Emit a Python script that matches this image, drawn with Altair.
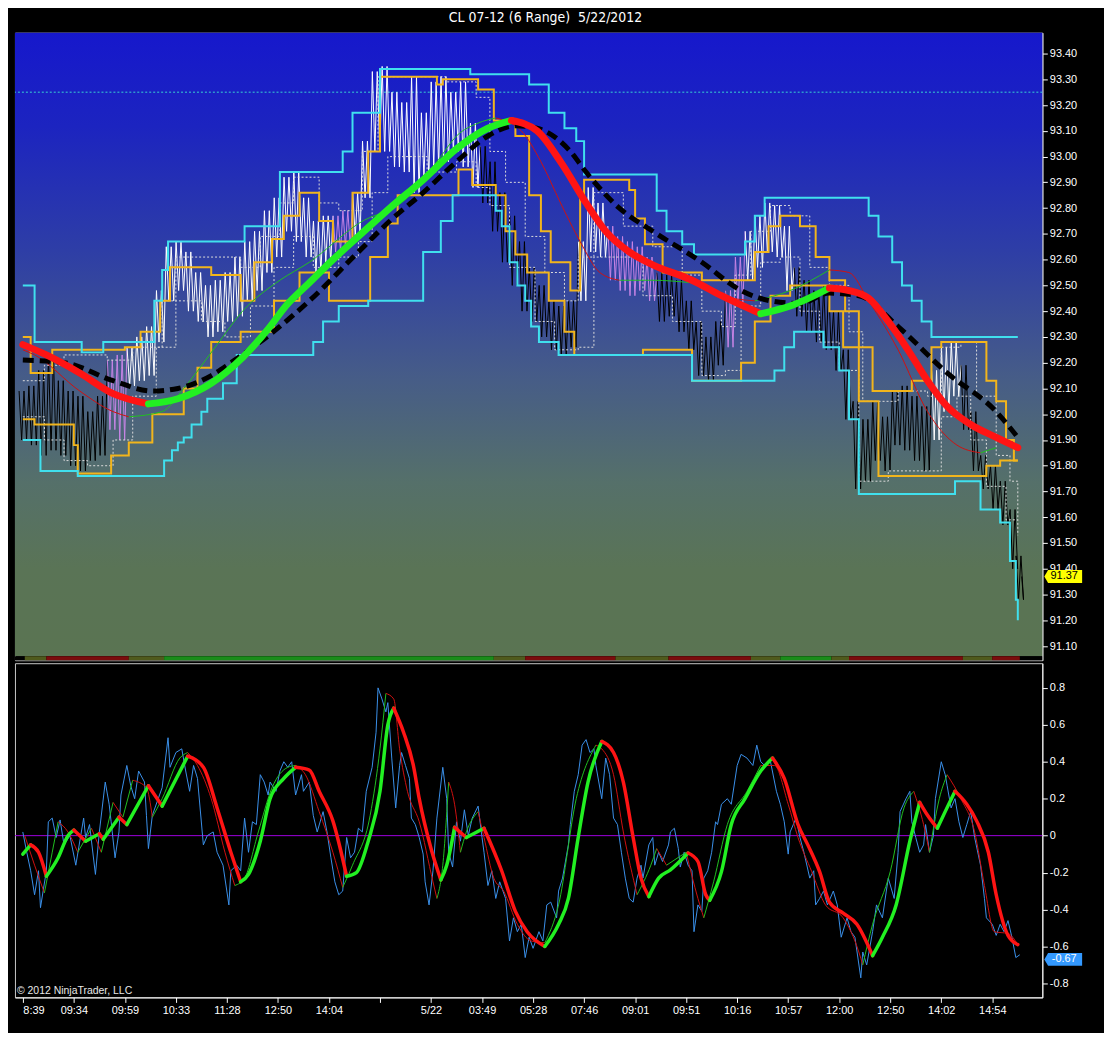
import json
import altair as alt
import pandas as pd

# ---------------------------------------------------------------- text
TITLE = "CL 07-12 (6 Range) \u00a05/22/2012"
COPYRIGHT = "\u00a9 2012 NinjaTrader, LLC"

# ---------------------------------------------------------------- axes
tick_bars = [4, 30, 56, 82, 108, 134, 160, 186, 212, 238, 264, 290, 316, 342, 368, 394, 420, 446, 472, 498]
tick_labels = ["8:39", "09:34", "09:59", "10:33", "11:28", "12:50", "14:04", "", "5/22", "03:49",
               "05:28", "07:46", "09:01", "09:51", "10:16", "10:57", "12:00", "12:50", "14:02", "14:54"]
price_ticks = [91.1, 91.2, 91.3, 91.4, 91.5, 91.6, 91.7, 91.8, 91.9, 92.0, 92.1, 92.2,
               92.3, 92.4, 92.5, 92.6, 92.7, 92.8, 92.9, 93.0, 93.1, 93.2, 93.3, 93.4]
osc_ticks = [-0.8, -0.6, -0.4, -0.2, 0, 0.2, 0.4, 0.6, 0.8]
last_price = 91.37
last_osc = -0.67
ref_level = 93.25

# ---------------------------------------------------------------- price trace (range bars)
price_bar = list(range(4, 510, 5)) + [512]
price_low = [91.90, 91.88, 91.84, 91.86, 91.84, 91.80, 91.78, 91.82, 91.84, 91.94,
             91.90, 92.11, 92.13, 92.15, 92.28, 92.44, 92.48, 92.40, 92.36, 92.30,
             92.32, 92.36, 92.38, 92.44, 92.48, 92.55, 92.61, 92.71, 92.67, 92.61,
             92.55, 92.59, 92.63, 92.65, 92.69, 92.84, 93.02, 93.02, 92.96, 92.94,
             92.86, 92.92, 92.96, 92.98, 93.02, 92.96, 92.88, 92.82, 92.71, 92.59,
             92.50, 92.40, 92.36, 92.30, 92.25, 92.23, 92.26, 92.44, 92.63, 92.61,
             92.52, 92.48, 92.46, 92.48, 92.44, 92.36, 92.38, 92.32, 92.25, 92.15,
             92.13, 92.19, 92.26, 92.42, 92.52, 92.57, 92.63, 92.61, 92.48, 92.38,
             92.32, 92.28, 92.25, 92.17, 91.98, 91.71, 91.74, 91.82, 91.78, 91.88,
             91.86, 91.82, 91.78, 91.90, 92.01, 92.07, 91.94, 91.78, 91.71, 91.63,
             91.57, 91.40, 91.28]
price_high = [92.09, 92.11, 92.17, 92.23, 92.13, 92.09, 92.07, 92.01, 92.07, 92.21,
              92.23, 92.26, 92.30, 92.34, 92.48, 92.65, 92.67, 92.63, 92.55, 92.50,
              92.52, 92.55, 92.61, 92.67, 92.71, 92.79, 92.84, 92.92, 92.94, 92.84,
              92.75, 92.77, 92.77, 92.79, 92.86, 93.06, 93.33, 93.35, 93.25, 93.21,
              93.31, 93.17, 93.29, 93.31, 93.25, 93.29, 93.13, 93.04, 92.98, 92.86,
              92.77, 92.67, 92.57, 92.50, 92.44, 92.42, 92.44, 92.67, 92.88, 92.82,
              92.73, 92.69, 92.67, 92.65, 92.61, 92.55, 92.54, 92.52, 92.44, 92.36,
              92.30, 92.36, 92.48, 92.61, 92.71, 92.77, 92.82, 92.81, 92.73, 92.57,
              92.52, 92.48, 92.50, 92.40, 92.25, 92.05, 91.98, 92.05, 91.99, 92.09,
              92.11, 92.07, 92.03, 92.17, 92.26, 92.28, 92.19, 92.01, 91.84, 91.80,
              91.74, 91.63, 91.45]
# k = below trend (black), w = above trend (white), p = transition (violet)
price_tone = ("kkkkkkkkk" + "pp" + "w" * 21 + "pp" + "w" * 13 + "k" * 10 + "www" + "ppppp"
              + "k" * 7 + "pp" + "wwwww" + "k" * 14 + "www" + "k" * 7)

# ---------------------------------------------------------------- price indicators
ma_slow = [(4, 92.27), (16, 92.23), (33, 92.16), (50, 92.08), (68, 92.04), (83, 92.06), (100, 92.12),
           (116, 92.22), (130, 92.34), (138, 92.42), (150, 92.51), (162, 92.60), (175, 92.69),
           (191, 92.80), (208, 92.91), (225, 93.03), (241, 93.11), (253, 93.14), (266, 93.10),
           (278, 92.98), (291, 92.82), (301, 92.71), (313, 92.63), (325, 92.58), (345, 92.52),
           (360, 92.46), (380, 92.39), (395, 92.42), (415, 92.49), (425, 92.48), (435, 92.45),
           (445, 92.36), (455, 92.25), (465, 92.13), (475, 92.03), (487, 91.96), (500, 91.91), (511, 91.87)]
ma_slow_dir = "dddd" + "u" * 13 + "d" * 9 + "uu" + "d" * 10

ma_base = [(4, 92.21), (25, 92.20), (50, 92.13), (70, 92.09), (83, 92.10), (100, 92.15), (110, 92.20),
           (130, 92.31), (150, 92.44), (175, 92.63), (191, 92.75), (208, 92.86), (225, 92.98),
           (241, 93.08), (255, 93.12), (266, 93.11), (283, 93.02), (291, 92.94), (308, 92.80),
           (325, 92.71), (350, 92.59), (370, 92.48), (385, 92.44), (400, 92.43), (415, 92.47),
           (430, 92.46), (450, 92.34), (475, 92.16), (500, 92.01), (511, 91.91)]

ma_fast = [(4, 92.25), (10, 92.23), (33, 92.09), (50, 92.01), (58, 91.99), (75, 92.01), (86, 92.10),
           (103, 92.27), (116, 92.40), (135, 92.52), (150, 92.59), (175, 92.74), (200, 92.84),
           (216, 92.99), (225, 93.08), (236, 93.13), (245, 93.15), (258, 93.10), (268, 92.98),
           (278, 92.82), (288, 92.67), (298, 92.55), (308, 92.52), (325, 92.52), (345, 92.51),
           (360, 92.46), (377, 92.44), (395, 92.48), (415, 92.56), (425, 92.55), (435, 92.44),
           (450, 92.25), (465, 92.01), (480, 91.88), (492, 91.85), (500, 91.87)]
ma_fast_dir = "dddd" + "u" * 12 + "d" * 6 + "uu" + "dd" + "uu" + "d" * 6 + "uu"

cyan_upper = [(4, 92.50), (10, 92.28), (34, 92.24), (45, 92.28), (71, 92.44), (75, 92.56), (78, 92.67),
              (117, 92.73), (135, 92.94), (167, 93.02), (172, 93.17), (186, 93.34), (232, 93.32),
              (262, 93.28), (272, 93.17), (280, 93.11), (286, 93.06), (290, 92.93), (327, 92.79),
              (332, 92.71), (340, 92.66), (346, 92.62), (372, 92.67), (377, 92.77), (382, 92.84),
              (435, 92.77), (440, 92.69), (447, 92.59), (452, 92.50), (457, 92.44), (462, 92.36),
              (467, 92.30), (511, 92.30)]
cyan_lower = [(4, 91.90), (13, 91.78), (32, 91.76), (76, 91.82), (80, 91.86), (83, 91.89), (86, 91.91),
              (90, 91.96), (95, 92.01), (98, 92.06), (106, 92.12), (113, 92.23), (152, 92.28),
              (157, 92.36), (165, 92.42), (180, 92.44), (208, 92.63), (217, 92.75), (223, 92.85),
              (245, 92.79), (248, 92.73), (252, 92.59), (256, 92.50), (260, 92.44), (263, 92.34),
              (267, 92.28), (277, 92.23), (345, 92.13), (387, 92.17), (392, 92.26), (397, 92.32),
              (412, 92.26), (420, 92.17), (425, 91.98), (430, 91.69), (479, 91.74), (492, 91.63),
              (502, 91.58), (507, 91.43), (510, 91.28), (511, 91.20)]
gold_upper = [(4, 92.30), (8, 92.16), (19, 92.25), (56, 92.26), (64, 92.32), (74, 92.44), (79, 92.57),
              (100, 92.54), (115, 92.44), (122, 92.59), (131, 92.68), (137, 92.77), (145, 92.86),
              (155, 92.75), (162, 92.67), (172, 92.86), (180, 93.02), (186, 93.31), (215, 93.28),
              (218, 93.30), (236, 93.26), (244, 93.14), (255, 93.08), (262, 92.85), (268, 92.71),
              (273, 92.59), (283, 92.48), (288, 92.84), (290, 92.91), (313, 92.87), (316, 92.76),
              (321, 92.66), (330, 92.55), (350, 92.52), (377, 92.63), (384, 92.73), (390, 92.77),
              (400, 92.73), (408, 92.61), (415, 92.52), (423, 92.40), (430, 92.26), (437, 92.09),
              (457, 92.13), (467, 92.26), (472, 92.28), (495, 92.13), (500, 92.05), (505, 91.90),
              (509, 91.82), (511, 91.82)]
gold_lower = [(4, 91.98), (10, 91.96), (30, 91.88), (32, 91.77), (49, 91.84), (58, 91.89), (70, 92.00),
              (86, 92.10), (93, 92.18), (100, 92.28), (115, 92.32), (132, 92.44), (145, 92.55),
              (160, 92.44), (181, 92.61), (190, 92.74), (195, 92.85), (226, 92.95), (233, 92.89),
              (245, 92.85), (250, 92.71), (255, 92.62), (261, 92.55), (272, 92.44), (280, 92.32),
              (285, 92.23), (320, 92.25), (345, 92.13), (370, 92.20), (377, 92.36), (385, 92.46),
              (395, 92.50), (415, 92.40), (422, 92.26), (430, 92.05), (440, 91.76), (487, 91.76),
              (495, 91.80), (502, 91.82), (511, 91.82)]
dots_upper = [(4, 92.13), (15, 92.19), (25, 92.23), (47, 92.21), (60, 92.26), (75, 92.44), (82, 92.61),
              (95, 92.61), (115, 92.57), (125, 92.69), (135, 92.82), (142, 92.92), (155, 92.82),
              (165, 92.79), (177, 93.02), (185, 93.31), (205, 93.31), (220, 93.29), (235, 93.23),
              (242, 93.02), (250, 92.90), (260, 92.69), (270, 92.55), (280, 92.44), (287, 92.61),
              (295, 92.86), (310, 92.73), (325, 92.65), (340, 92.54), (350, 92.40), (360, 92.34),
              (367, 92.54), (375, 92.71), (385, 92.81), (395, 92.77), (405, 92.57), (415, 92.50),
              (425, 92.32), (432, 92.05), (450, 92.09), (465, 92.07), (472, 92.26), (482, 92.28),
              (490, 92.07), (500, 91.84), (507, 91.74), (511, 91.59)]
dots_lower = [(4, 91.99), (15, 91.90), (25, 91.82), (37, 91.80), (50, 91.90), (60, 92.07), (72, 92.26),
              (82, 92.44), (95, 92.36), (107, 92.30), (120, 92.42), (132, 92.57), (142, 92.69),
              (152, 92.57), (165, 92.61), (175, 92.67), (182, 92.86), (190, 93.00), (210, 92.94),
              (225, 92.98), (235, 92.88), (242, 92.81), (252, 92.57), (265, 92.36), (275, 92.25),
              (287, 92.26), (295, 92.61), (305, 92.61), (320, 92.46), (335, 92.36), (350, 92.15),
              (362, 92.17), (370, 92.42), (380, 92.59), (390, 92.61), (400, 92.40), (410, 92.28),
              (420, 92.17), (430, 91.74), (445, 91.78), (465, 91.78), (472, 91.99), (480, 92.07),
              (487, 91.90), (495, 91.72), (505, 91.59), (511, 91.53)]

# trend strip under the price panel: (start bar, end bar, state)
trend_strip = [(5, 16, "n"), (16, 58, "d"), (58, 76, "n"), (76, 244, "u"), (244, 260, "n"),
               (260, 306, "d"), (306, 333, "n"), (333, 375, "d"), (375, 390, "n"), (390, 416, "u"),
               (416, 425, "n"), (425, 483, "d"), (483, 498, "n"), (498, 512, "d")]

# ---------------------------------------------------------------- oscillator panel
osc_fast = [(4, 0.02), (6, -0.09), (8, -0.19), (10, -0.32), (12, -0.19), (13, -0.39), (16, -0.19), (17, 0.075), (19, 0.095), (21, -0.01),
            (23, 0.085), (25, -0.05), (28, 0.0), (31, -0.16), (35, 0.095), (36, -0.01), (38, 0.06), (41, -0.21), (43, 0.02), (46, 0.29),
            (48, 0.17), (49, 0.075), (51, -0.12), (53, 0.02), (54, 0.22), (57, 0.38), (59, 0.27), (61, 0.20), (63, 0.35), (66, 0.29),
            (67, 0.11), (68, -0.07), (70, 0.11), (73, 0.20), (75, 0.26), (78, 0.53), (79, 0.37), (82, 0.45), (85, 0.47), (87, 0.35),
            (89, 0.24), (91, 0.38), (93, 0.31), (96, -0.05), (98, 0.0), (101, 0.02), (103, -0.09), (106, -0.16), (109, -0.375), (110, -0.19),
            (113, -0.16), (115, -0.19), (117, 0.095), (119, -0.09), (121, 0.075), (123, 0.06), (125, 0.33), (127, 0.29), (129, 0.22), (130, 0.29),
            (133, 0.24), (135, 0.35), (137, 0.40), (139, 0.37), (141, 0.40), (143, 0.22), (146, 0.33), (147, 0.24), (150, 0.29), (152, 0.11),
            (154, 0.02), (157, 0.13), (159, 0.02), (161, -0.12), (163, -0.25), (165, -0.32), (167, -0.30), (169, -0.01), (171, -0.12), (173, -0.09),
            (175, 0.04), (177, 0.02), (179, 0.24), (182, 0.37), (184, 0.56), (185, 0.80), (187, 0.74), (189, 0.67), (190, 0.72), (192, 0.42),
            (194, 0.15), (196, 0.38), (197, 0.45), (199, 0.38), (201, 0.31), (202, 0.095), (204, 0.06), (206, -0.01), (208, -0.10), (209, -0.25),
            (211, -0.375), (213, -0.19), (215, 0.095), (218, 0.37), (220, 0.20), (221, -0.09), (223, -0.17), (225, 0.075), (227, -0.03), (229, 0.14),
            (231, 0.0), (233, 0.095), (236, 0.16), (238, -0.01), (239, -0.09), (241, -0.27), (243, -0.19), (245, -0.34), (247, -0.25), (250, -0.34),
            (252, -0.57), (254, -0.445), (256, -0.52), (258, -0.48), (260, -0.66), (262, -0.55), (264, -0.61), (267, -0.52), (269, -0.57), (271, -0.375),
            (273, -0.36), (276, -0.445), (277, -0.30), (279, -0.23), (282, -0.05), (283, 0.06), (285, 0.24), (287, 0.33), (289, 0.49), (291, 0.52),
            (293, 0.45), (295, 0.47), (296, 0.38), (299, 0.20), (301, 0.42), (303, 0.33), (305, 0.095), (307, 0.06), (309, -0.09), (311, -0.23),
            (313, -0.34), (315, -0.36), (317, -0.23), (319, -0.16), (320, -0.23), (323, -0.05), (325, -0.01), (326, -0.16), (328, -0.09), (330, -0.14),
            (333, -0.05), (334, 0.02), (336, 0.04), (338, -0.07), (339, -0.17), (341, -0.09), (343, -0.16), (345, -0.19), (346, -0.52), (348, -0.375),
            (350, -0.41), (351, -0.23), (353, -0.19), (355, -0.09), (357, 0.075), (358, 0.06), (360, 0.17), (363, 0.20), (365, 0.17), (368, 0.38),
            (370, 0.44), (373, 0.42), (376, 0.38), (378, 0.49), (380, 0.40), (382, 0.38), (385, 0.40), (388, 0.24), (390, 0.17), (392, 0.075),
            (394, -0.10), (395, 0.02), (398, 0.095), (400, -0.01), (402, -0.09), (405, -0.23), (407, -0.19), (408, -0.375), (410, -0.34), (412, -0.30),
            (414, -0.375), (417, -0.30), (419, -0.375), (421, -0.55), (424, -0.445), (426, -0.52), (428, -0.55), (431, -0.77), (432, -0.63), (434, -0.70),
            (437, -0.52), (439, -0.375), (442, -0.445), (444, -0.30), (445, -0.23), (448, -0.34), (450, -0.09), (451, 0.13), (454, 0.20), (456, 0.24),
            (457, 0.075), (459, -0.01), (461, -0.09), (463, -0.05), (464, 0.06), (466, -0.09), (468, 0.0), (469, 0.20), (472, 0.40), (474, 0.33),
            (475, 0.27), (477, 0.15), (479, 0.20), (481, 0.075), (483, -0.01), (485, 0.06), (487, 0.13), (489, -0.01), (492, -0.16), (494, -0.34),
            (495, -0.445), (498, -0.48), (500, -0.54), (502, -0.48), (504, -0.52), (506, -0.46), (508, -0.55), (510, -0.66), (512, -0.645)]

osc_signal = [(5, 0.00), (10, -0.16), (15, -0.31), (19, -0.09), (22, 0.075), (27, 0.02), (32, -0.09), (39, 0.04), (44, -0.09), (50, 0.18),
              (55, 0.10), (60, 0.30), (67, 0.26), (70, 0.10), (75, 0.20), (84, 0.42), (88, 0.45), (93, 0.38), (100, 0.20), (107, -0.09),
              (112, -0.27), (117, -0.23), (124, 0.02), (131, 0.26), (139, 0.37), (143, 0.38), (148, 0.33), (155, 0.13), (162, -0.09), (167, -0.28),
              (172, -0.16), (181, 0.11), (186, 0.47), (189, 0.77), (193, 0.74), (196, 0.47), (200, 0.24), (206, 0.075), (213, -0.25), (215, -0.34),
              (218, -0.16), (221, 0.29), (224, 0.17), (227, -0.09), (230, 0.02), (236, 0.13), (239, -0.01), (244, -0.23), (249, -0.30), (256, -0.48),
              (263, -0.57), (270, -0.58), (277, -0.375), (286, 0.20), (296, 0.49), (299, 0.47), (305, 0.33), (310, 0.02), (317, -0.32), (324, -0.16),
              (327, -0.07), (332, -0.16), (342, -0.09), (348, -0.34), (351, -0.445), (356, -0.25), (363, 0.06), (373, 0.24), (380, 0.38), (387, 0.38),
              (394, 0.17), (399, -0.01), (406, -0.195), (413, -0.375), (422, -0.445), (430, -0.63), (432, -0.70), (437, -0.48), (446, -0.195), (453, 0.15),
              (458, 0.24), (463, 0.06), (466, -0.09), (471, 0.20), (475, 0.33), (482, 0.20), (489, 0.02), (494, -0.27), (499, -0.52), (506, -0.53),
              (511, -0.59)]
osc_signal_dir = ("dduuddudud" + "udduuudddd" + "uuuuuddddu" + "uuuddddddu" + "udduuddddd"
                  + "duuudddduu" + "dudduuuudd" + "dddddduuuu" + "dduudddddd" + "d")

osc_smooth = [(4, -0.10), (8, -0.05), (12, -0.09), (16, -0.22), (22, -0.12), (27, 0.00), (30, 0.03), (36, -0.03), (43, 0.01), (45, -0.02),
              (53, 0.10), (57, 0.06), (68, 0.27), (75, 0.16), (88, 0.43), (96, 0.37), (103, 0.15), (110, -0.09), (115, -0.25), (119, -0.21),
              (125, -0.03), (130, 0.20), (137, 0.31), (143, 0.37), (150, 0.355), (155, 0.24), (162, 0.08), (169, -0.22), (174, -0.20), (180, -0.03),
              (186, 0.24), (190, 0.60), (193, 0.69), (198, 0.56), (203, 0.38), (206, 0.20), (212, -0.07), (217, -0.24), (220, -0.16), (224, 0.045),
              (230, -0.01), (239, 0.04), (248, -0.19), (255, -0.41), (261, -0.52), (270, -0.60), (277, -0.48), (282, -0.34), (287, -0.01), (292, 0.29),
              (299, 0.51), (305, 0.45), (310, 0.29), (315, -0.01), (319, -0.23), (323, -0.33), (328, -0.23), (334, -0.185), (343, -0.094), (348, -0.14),
              (352, -0.32), (354, -0.35), (360, -0.195), (365, 0.06), (372, 0.20), (380, 0.35), (386, 0.42), (392, 0.31), (399, 0.06), (404, -0.05),
              (410, -0.195), (415, -0.36), (422, -0.42), (429, -0.48), (437, -0.65), (442, -0.55), (449, -0.375), (456, -0.03), (461, 0.18), (465, 0.11),
              (470, 0.04), (474, 0.13), (479, 0.24), (485, 0.17), (490, 0.08), (496, -0.09), (500, -0.32), (506, -0.54), (511, -0.59)]
osc_smooth_dir = ("udduuududududu" + "dddd" + "uuuuu" + "dddd" + "uuuuu" + "ddddd" + "uu" + "d" + "u"
                  + "dddd" + "uuuuu" + "ddddd" + "uuu" + "ddd" + "uuuuu" + "dddddddd" + "uuuu" + "dd" + "uu" + "ddddddd")

# ---------------------------------------------------------------- styling
W, H1, H2 = 1033, 631, 336
STRIP = 4
X_DOMAIN = [0, 523.5]
P_DOMAIN = [91.045, 93.481]
O_DOMAIN = [-0.8757, 0.9335]
FONT = "Liberation Sans, Arial, Helvetica, sans-serif"
TITLE_FONT = "Liberation Sans Narrow, Arial Narrow, DejaVu Sans Condensed, Liberation Sans, sans-serif"

UP, DOWN = "#22f022", "#ff1414"
UP_THIN, DOWN_THIN = "#20c020", "#d01010"
tone_color = {"k": "#000000", "w": "#ffffff", "p": "#c884e6"}
strip_color = {"n": "#4f5a1c", "d": "#7a0c0c", "u": "#1a8c1a"}

xscale = alt.Scale(domain=X_DOMAIN, nice=False, zero=False)
pscale = alt.Scale(domain=P_DOMAIN, nice=False, zero=False)
oscale = alt.Scale(domain=O_DOMAIN, nice=False, zero=False)

axis_style = dict(domainColor="#ffffff", tickColor="#ffffff", tickSize=5, labelColor="#ffffff",
                  labelFont=FONT, labelFontSize=11, grid=False, title=None, labelOverlap=False)

p_axis = alt.Axis(orient="right", values=price_ticks, format=".2f", labelPadding=2, **axis_style)
o_axis = alt.Axis(orient="right", values=osc_ticks, labelPadding=2,
                  labelExpr="datum.value == 0 ? '0' : (datum.value < 0 ? '-' : '') + format(abs(datum.value), '.1f')",
                  **axis_style)
x_axis = alt.Axis(orient="bottom", values=tick_bars, labelPadding=2, labelFlush=False,
                  labelAlign=alt.condition("datum.value < 10", alt.value("left"), alt.value("center")),
                  labelExpr=f"{json.dumps(tick_labels)}[indexof({json.dumps(tick_bars)}, datum.value)]",
                  **axis_style)


def X(field="x", axis=None):
    return alt.X(f"{field}:Q", scale=xscale, axis=axis)


def PY(field="y"):
    return alt.Y(f"{field}:Q", scale=pscale, axis=p_axis)


def OY(field="y"):
    return alt.Y(f"{field}:Q", scale=oscale, axis=o_axis)


def colored_segments(points, keys, palette):
    rows, seg, prev = [], 0, None
    for i, ((x, y), k) in enumerate(zip(points, keys)):
        if prev is not None and k != prev:
            rows.append({"x": x, "y": y, "col": palette[prev], "seg": seg, "o": i})
            seg += 1
        rows.append({"x": x, "y": y, "col": palette[k], "seg": seg, "o": i})
        prev = k
    return pd.DataFrame(rows)


def step_pair(upper, lower):
    rows = [{"x": x, "y": y, "s": "up"} for x, y in upper]
    rows += [{"x": x, "y": y, "s": "lo"} for x, y in lower]
    return pd.DataFrame(rows)


one = pd.DataFrame({"k": [0]})

# ---------------------------------------------------------------- upper panel
gradient = alt.LinearGradient(
    gradient="linear", x1=0, x2=0, y1=0, y2=1,
    stops=[alt.GradientStop(color="#1618cc", offset=0.0),
           alt.GradientStop(color="#1c24c0", offset=0.15),
           alt.GradientStop(color="#2e3ea6", offset=0.35),
           alt.GradientStop(color="#465c88", offset=0.55),
           alt.GradientStop(color="#55706a", offset=0.72),
           alt.GradientStop(color="#5a7456", offset=0.86),
           alt.GradientStop(color="#5a7452", offset=1.0)])

bg = alt.Chart(one).mark_rect(color=gradient).encode(
    x=alt.value(0), x2=alt.value(W), y=alt.value(0), y2=alt.value(H1 - STRIP))
strip_bg = alt.Chart(one).mark_rect(color="#000000").encode(
    x=alt.value(0), x2=alt.value(W), y=alt.value(H1 - STRIP), y2=alt.value(H1))
strip_df = pd.DataFrame([{"s": s, "e": e, "col": strip_color[t]} for s, e, t in trend_strip])
strip = alt.Chart(strip_df).mark_rect().encode(
    x=X("s"), x2="e:Q", y=alt.value(H1 - STRIP), y2=alt.value(H1),
    color=alt.Color("col:N", scale=None))

ref_line = alt.Chart(pd.DataFrame({"y": [ref_level]})).mark_rule(
    color="#38d4d4", strokeDash=[2, 2], strokeWidth=1).encode(y=PY())

# price scribble: each column swings twice between its low and high
trace_pts, trace_keys = [], []
for b, lo, hi, t in zip(price_bar, price_low, price_high, price_tone):
    trace_pts += [(b - 1.9, hi), (b - 0.6, lo), (b + 0.6, hi), (b + 1.9, lo)]
    trace_keys += [t, t, t, t]
trace_pts.append((513, last_price))
trace_keys.append("k")
trace_df = colored_segments(trace_pts, trace_keys, tone_color)
trace = alt.Chart(trace_df).mark_line(strokeWidth=1).encode(
    x=X(), y=PY(), color=alt.Color("col:N", scale=None), detail="seg:N", order="o:Q")

dots = alt.Chart(step_pair(dots_upper, dots_lower)).mark_line(
    interpolate="step-after", strokeDash=[2, 2], strokeWidth=1, color="#dcdcdc").encode(
    x=X(), y=PY(), detail="s:N")
gold = alt.Chart(step_pair(gold_upper, gold_lower)).mark_line(
    interpolate="step-after", strokeWidth=2, color="#f2b51c").encode(
    x=X(), y=PY(), detail="s:N")
cyan = alt.Chart(step_pair(cyan_upper, cyan_lower)).mark_line(
    interpolate="step-after", strokeWidth=2, color="#40e0ee").encode(
    x=X(), y=PY(), detail="s:N")

fast_df = colored_segments(ma_fast, ma_fast_dir, {"u": UP_THIN, "d": DOWN_THIN})
fast = alt.Chart(fast_df).mark_line(strokeWidth=1, interpolate="monotone").encode(
    x=X(), y=PY(), color=alt.Color("col:N", scale=None), detail="seg:N", order="o:Q")

base_df = pd.DataFrame([{"x": x, "y": y} for x, y in ma_base])
base = alt.Chart(base_df).mark_line(strokeWidth=5, color="#000000", strokeDash=[11, 6],
                                     interpolate="monotone").encode(x=X(), y=PY())

slow_df = colored_segments(ma_slow, ma_slow_dir, {"u": UP, "d": DOWN})
slow = alt.Chart(slow_df).mark_line(strokeWidth=7, interpolate="monotone", strokeCap="round").encode(
    x=X(), y=PY(), color=alt.Color("col:N", scale=None), detail="seg:N", order="o:Q")

TAG = "M -1 0 L -0.8 -0.34 L 1 -0.34 L 1 0.34 L -0.8 0.34 Z"
price_tag_df = pd.DataFrame({"y": [last_price], "t": [f"{last_price:.2f}"]})
price_tag = alt.Chart(price_tag_df).mark_point(shape=TAG, size=1444, filled=True, opacity=1,
                                               color="#ffff00").encode(x=alt.value(W + 21), y=PY())
price_tag_txt = alt.Chart(price_tag_df).mark_text(font=FONT, fontSize=11, color="#000000").encode(
    x=alt.value(W + 22), y=PY(), text="t:N")

upper = alt.layer(bg, strip_bg, strip, ref_line, trace, dots, gold, cyan, fast, base, slow,
                  price_tag, price_tag_txt).properties(width=W, height=H1)

# ---------------------------------------------------------------- lower panel
zero = alt.Chart(pd.DataFrame({"y": [0.0]})).mark_rule(color="#a000e0", strokeWidth=1).encode(y=OY())
fast_osc = alt.Chart(pd.DataFrame([{"x": x, "y": y} for x, y in osc_fast])).mark_line(
    strokeWidth=1, color="#3a90ea").encode(x=X(axis=x_axis), y=OY())
sig_df = colored_segments(osc_signal, osc_signal_dir, {"u": UP_THIN, "d": DOWN_THIN})
sig = alt.Chart(sig_df).mark_line(strokeWidth=1, interpolate="monotone").encode(
    x=X(axis=x_axis), y=OY(), color=alt.Color("col:N", scale=None), detail="seg:N", order="o:Q")
smooth_df = colored_segments(osc_smooth, osc_smooth_dir, {"u": UP, "d": DOWN})
smooth = alt.Chart(smooth_df).mark_line(strokeWidth=3.5, interpolate="monotone", strokeCap="round").encode(
    x=X(axis=x_axis), y=OY(), color=alt.Color("col:N", scale=None), detail="seg:N", order="o:Q")
copyright_txt = alt.Chart(one).mark_text(text=COPYRIGHT, font=FONT, fontSize=10.5, color="#e8e8e8",
                                         align="left", baseline="bottom").encode(
    x=alt.value(2), y=alt.value(H2 - 1))
osc_tag_df = pd.DataFrame({"y": [last_osc], "t": [f"{last_osc:.2f}"]})
osc_tag = alt.Chart(osc_tag_df).mark_point(shape=TAG, size=1444, filled=True, opacity=1,
                                           color="#3399ff").encode(x=alt.value(W + 21), y=OY())
osc_tag_txt = alt.Chart(osc_tag_df).mark_text(font=FONT, fontSize=11, color="#ffffff").encode(
    x=alt.value(W + 22), y=OY(), text="t:N")

lower = alt.layer(zero, fast_osc, sig, smooth, copyright_txt, osc_tag, osc_tag_txt).properties(
    width=W, height=H2)

chart = alt.vconcat(upper, lower, spacing=1).properties(
    title=alt.TitleParams(TITLE, color="#ffffff", font=TITLE_FONT, fontSize=14, fontWeight="normal",
                          anchor="middle", offset=7),
    background="#000000",
    padding={"left": 0, "top": 0, "right": 21, "bottom": 14},
).configure_view(stroke="#c8c8c8", strokeWidth=1)

chart.save("out.html", embed_options={"renderer": "svg", "actions": False})
